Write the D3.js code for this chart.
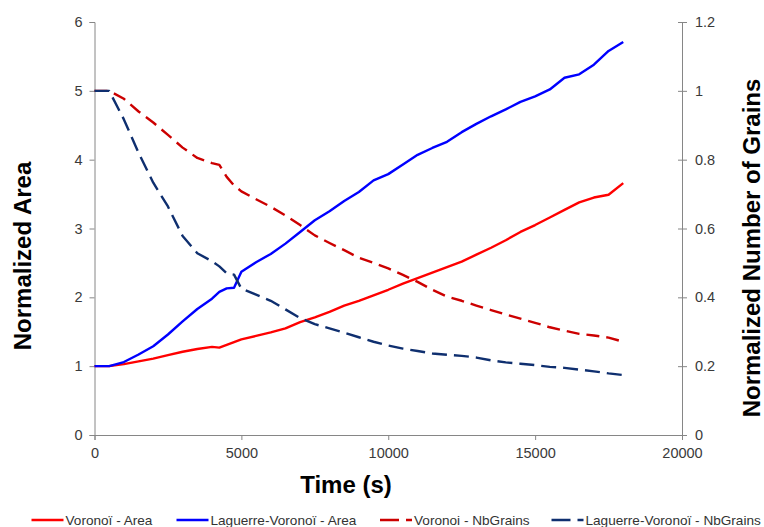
<!DOCTYPE html>
<html><head><meta charset="utf-8">
<script src="https://d3js.org/d3.v7.min.js"></script>
<style>body{margin:0;background:#fff;} svg{display:block;}</style>
</head><body>
<script>
const time = [0,500,1000,1500,2000,2500,3000,3500,4000,4250,4500,4750,5000,5500,6000,6500,7000,7500,8000,8500,9000,9500,10000,10500,11000,11500,12000,12500,13000,13500,14000,14500,15000,15500,16000,16500,17000,17500,18000];
const voronoiArea = [1.00,1.00,1.03,1.07,1.11,1.16,1.21,1.25,1.28,1.27,1.31,1.35,1.39,1.44,1.49,1.55,1.64,1.71,1.79,1.88,1.95,2.03,2.11,2.20,2.28,2.36,2.44,2.52,2.62,2.72,2.83,2.95,3.05,3.16,3.27,3.38,3.45,3.49,3.66];
const laguerreArea = [1.00,1.00,1.06,1.17,1.29,1.46,1.65,1.83,1.98,2.08,2.13,2.14,2.37,2.51,2.63,2.78,2.95,3.12,3.25,3.40,3.53,3.70,3.79,3.93,4.07,4.17,4.26,4.40,4.52,4.63,4.73,4.84,4.92,5.02,5.19,5.24,5.38,5.58,5.71];
const voronoiGrains = [1.000,1.000,0.977,0.940,0.908,0.872,0.835,0.805,0.790,0.785,0.750,0.725,0.708,0.685,0.663,0.638,0.610,0.580,0.558,0.537,0.515,0.500,0.484,0.465,0.445,0.422,0.402,0.390,0.376,0.363,0.350,0.338,0.326,0.313,0.303,0.294,0.289,0.283,0.271];
const laguerreGrains = [1.000,1.000,0.917,0.820,0.733,0.664,0.578,0.528,0.505,0.490,0.470,0.466,0.425,0.408,0.390,0.365,0.340,0.322,0.310,0.297,0.284,0.271,0.260,0.251,0.244,0.237,0.233,0.230,0.225,0.217,0.211,0.207,0.203,0.198,0.195,0.190,0.185,0.179,0.174];
const xTicks = [0,5000,10000,15000,20000];
const yLeftTicks = [0,1,2,3,4,5,6];
const yRightTicks = [0,0.2,0.4,0.6,0.8,1,1.2];
const seriesNames = ["Voronoï - Area","Laguerre-Voronoï - Area","Voronoi - NbGrains","Laguerre-Voronoï - NbGrains"];

const W=764,H=527;
const svg=d3.select("body").append("svg").attr("width",W).attr("height",H)
  .style("font-family","'Liberation Sans', Arial, sans-serif");
const x=d3.scaleLinear().domain([0,20000]).range([94.5,682]);
const yL=d3.scaleLinear().domain([0,6]).range([435,22]);
const yR=d3.scaleLinear().domain([0,1.2]).range([435,22]);
const axisColor="#868686", tickTextColor="#3a3a3a";

function styleAxis(g){
  g.select(".domain").attr("stroke",axisColor).attr("stroke-width",1);
  g.selectAll(".tick line").attr("stroke",axisColor);
  g.selectAll(".tick text").attr("fill",tickTextColor).style("font-size","14.5px").style("font-family","'Liberation Sans', Arial, sans-serif");
}
const gx=svg.append("g").attr("transform","translate(0,435)")
  .call(d3.axisBottom(x).tickValues(xTicks).tickFormat(d3.format("d")).tickSizeOuter(0).tickSize(5).tickPadding(8));
styleAxis(gx);
const gl=svg.append("g").attr("transform","translate(94.5,0)")
  .call(d3.axisLeft(yL).tickValues(yLeftTicks).tickFormat(d3.format("d")).tickSizeOuter(0).tickSize(5).tickPadding(7));
styleAxis(gl);
const gr=svg.append("g").attr("transform","translate(682,0)")
  .call(d3.axisRight(yR).tickValues(yRightTicks).tickFormat(d=>String(d)).tickSizeOuter(0).tickSizeInner(5).tickPadding(8));
styleAxis(gr);
gr.selectAll(".tick line").attr("x1",-4);

const data=time.map((t,i)=>({t,va:voronoiArea[i],la:laguerreArea[i],vg:voronoiGrains[i],lg:laguerreGrains[i]}));
const series=[
  {key:"va",y:yL,color:"#ff0000",dash:null},
  {key:"la",y:yL,color:"#0000ff",dash:null},
  {key:"vg",y:yR,color:"#cc0000",dash:"13,7"},
  {key:"lg",y:yR,color:"#0f2f6f",dash:"15,7"}
];
series.forEach(s=>{
  const line=d3.line().x(d=>x(d.t)).y(d=>s.y(d[s.key]));
  svg.append("path").datum(data).attr("d",line).attr("fill","none")
    .attr("stroke",s.color).attr("stroke-width",2.4)
    .attr("stroke-dasharray",s.dash).attr("stroke-linejoin","round");
});

// axis titles
svg.append("text").attr("transform","translate(31,256) rotate(-90)").attr("text-anchor","middle")
  .style("font-size","24px").style("font-weight","bold").attr("fill","#000").text("Normalized Area");
svg.append("text").attr("transform","translate(760,248) rotate(-90)").attr("text-anchor","middle")
  .style("font-size","24px").style("font-weight","bold").attr("fill","#000").text("Normalized Number of Grains");
svg.append("text").attr("x",346).attr("y",493).attr("text-anchor","middle")
  .style("font-size","24px").style("font-weight","bold").attr("fill","#000").text("Time (s)");

// legend
const legX=[31.5,176.5,380,551.5];
series.forEach((s,i)=>{
  svg.append("line").attr("x1",legX[i]).attr("x2",legX[i]+32).attr("y1",520).attr("y2",520)
    .attr("stroke",s.color).attr("stroke-width",2.4).attr("stroke-dasharray",s.dash?"19,7":null);
  svg.append("text").attr("x",legX[i]+34).attr("y",525).style("font-size","13.6px")
    .attr("fill","#333").text(seriesNames[i]);
});
</script>
</body></html>
